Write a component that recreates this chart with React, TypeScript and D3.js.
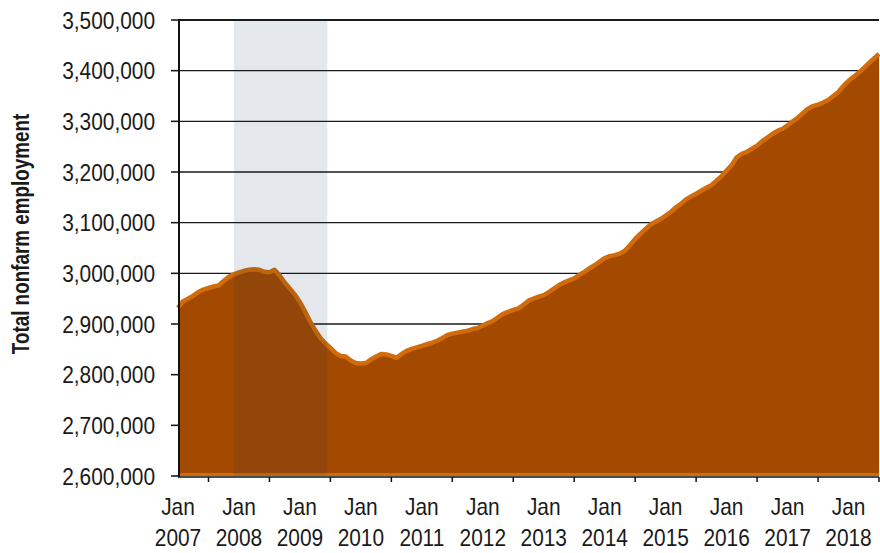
import React from "react";
import * as d3 from "d3";

// Monthly total nonfarm employment, Jan 2007 – Jul 2018 (thousands)
const employmentK: number[] = [
  2932, 2945, 2950, 2956, 2963, 2968, 2971, 2974, 2976, 2985, 2993, 2998,
  3002, 3005, 3007, 3008, 3007, 3003, 3002, 3007, 2996, 2982, 2970, 2958,
  2943, 2925, 2905, 2888, 2873, 2862, 2853, 2843, 2837, 2836, 2828, 2823,
  2822, 2823, 2830, 2836, 2841, 2840, 2837, 2833, 2841, 2847, 2851, 2854,
  2857, 2860, 2863, 2867, 2872, 2878, 2881, 2883, 2885, 2887, 2890, 2892,
  2897, 2902, 2906, 2913, 2920, 2924, 2928, 2931, 2938, 2946, 2950, 2954,
  2957, 2963, 2970, 2977, 2982, 2986, 2990, 2997, 3003, 3010, 3016, 3023,
  3030, 3034, 3036, 3039, 3045, 3056, 3068, 3078, 3087, 3096, 3102, 3107,
  3114, 3121, 3130, 3137, 3146, 3152, 3157, 3163, 3169, 3174, 3183, 3192,
  3203, 3214, 3229, 3236, 3240, 3246, 3252, 3261, 3268, 3275, 3281, 3285,
  3292, 3300, 3307, 3316, 3325, 3330, 3333, 3337, 3342, 3350, 3358, 3370,
  3380, 3388, 3396, 3405, 3415, 3424, 3433,
];
const employment: number[] = employmentK.map((v) => v * 1000);

const yTicks: number[] = [
  2600000, 2700000, 2800000, 2900000, 3000000, 3100000, 3200000, 3300000,
  3400000, 3500000,
];
const yearLabels: string[] = [
  "2007", "2008", "2009", "2010", "2011", "2012", "2013", "2014", "2015",
  "2016", "2017", "2018",
];
const monthLabel = "Jan";
// recession: Dec 2007 (index 11) to Jun 2009
const recessionStart = 11;
const recessionEnd = 29.4;
const yTitle = "Total nonfarm employment";

const FONT = "'Liberation Sans', Arial, sans-serif";
const SX = 0.87; // horizontal condensing to imitate a narrow face

export default function App() {
  const W = 880;
  const H = 553;
  const x = d3.scaleLinear().domain([0, employment.length - 1]).range([178, 879]);
  const y = d3.scaleLinear().domain([2600000, 3500000]).range([476, 20]);

  const area = d3
    .area<number>()
    .x((_, i) => x(i))
    .y0(y(2600000))
    .y1((d) => y(d));
  const line = d3
    .line<number>()
    .x((_, i) => x(i))
    .y((d) => y(d));

  const fmt = d3.format(",");
  const x0 = x(0);
  const x1 = x(employment.length - 1);

  return (
    <svg
      width={W}
      height={H}
      style={{ position: "absolute", left: 0, top: 0, background: "#fff" }}
      fontFamily={FONT}
    >
      {/* gridlines */}
      {yTicks.slice(1).map((t) => (
        <line
          key={"g" + t}
          x1={x0}
          x2={x1}
          y1={y(t)}
          y2={y(t)}
          stroke="#1a1a1a"
          strokeWidth={t === 3500000 ? 2 : 1.4}
        />
      ))}
      {/* area */}
      <path d={area(employment) || ""} fill="#a44a00" />
      <path
        d={line(employment) || ""}
        fill="none"
        stroke="#d26c0a"
        strokeWidth={4.5}
        strokeLinejoin="round"
      />
      <line x1={x0} x2={x1} y1={y(2600000) - 1.5} y2={y(2600000) - 1.5} stroke="#d26c0a" strokeWidth={3} />
      {/* recession shading */}
      <rect
        x={x(recessionStart)}
        y={y(3500000)}
        width={x(recessionEnd) - x(recessionStart)}
        height={y(2600000) - y(3500000)}
        fill="#0a2d52"
        opacity={0.11}
      />
      {/* y axis */}
      <line x1={179} x2={179} y1={y(3500000) - 1} y2={y(2600000) + 1} stroke="#111" strokeWidth={2} />
      {yTicks.map((t) => (
        <g key={"y" + t}>
          <line x1={171} x2={179} y1={y(t)} y2={y(t)} stroke="#111" strokeWidth={1.5} />
          <text
            transform={`translate(155, ${y(t) + 8.5}) scale(${SX}, 1)`}
            textAnchor="end"
            fontSize={24}
            fill="#1a1a1a"
          >
            {fmt(t)}
          </text>
        </g>
      ))}
      {/* x axis */}
      <line x1={x0} x2={x1} y1={477} y2={477} stroke="#111" strokeWidth={1.5} />
      {yearLabels.map((yr, k) => (
        <g key={"x" + yr}>
          <line
            x1={x(k * 12 + 6)}
            x2={x(k * 12 + 6)}
            y1={477}
            y2={482}
            stroke="#111"
            strokeWidth={1.5}
          />
          <text
            transform={`translate(${x(k * 12)}, 515) scale(${SX}, 1)`}
            textAnchor="middle"
            fontSize={24}
            fill="#1a1a1a"
          >
            {monthLabel}
          </text>
          <text
            transform={`translate(${x(k * 12)}, 546) scale(${SX}, 1)`}
            textAnchor="middle"
            fontSize={24}
            fill="#1a1a1a"
          >
            {yr}
          </text>
        </g>
      ))}
      {/* y title */}
      <text
        transform={`translate(28.5, 234) rotate(-90) scale(0.82, 1)`}
        textAnchor="middle"
        fontSize={23}
        fontWeight="bold"
        fill="#1a1a1a"
      >
        {yTitle}
      </text>
    </svg>
  );
}
